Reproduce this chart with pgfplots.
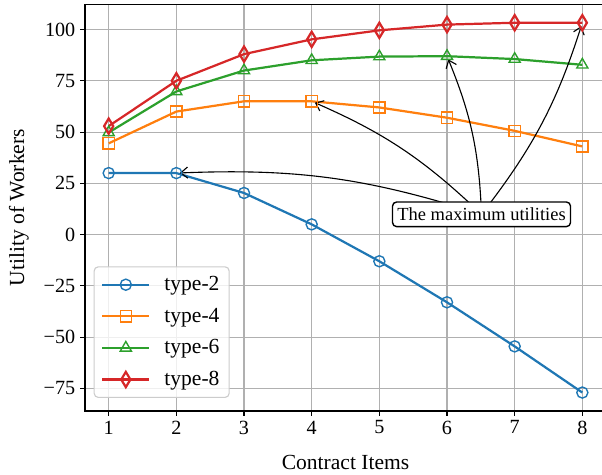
\documentclass[border=0pt]{standalone}
\usepackage{pgfplots}
\pgfplotsset{compat=1.18}
\usepackage{fontspec}
\setmainfont{Liberation Serif}
\usetikzlibrary{arrows.meta}

\definecolor{c0}{HTML}{1F77B4}
\definecolor{c1}{HTML}{FF7F0E}
\definecolor{c2}{HTML}{2CA02C}
\definecolor{c3}{HTML}{D62728}
\definecolor{gridgray}{HTML}{B0B0B0}

\begin{document}
\begin{tikzpicture}
\begin{axis}[
    scale only axis,
    width=375.1pt, height=292.8pt,
    xmin=0.65, xmax=8.35,
    ymin=-86, ymax=112.3,
    xtick={1,2,3,4,5,6,7,8},
    xticklabels={1,2,3,4,5,6,7,8},
    ytick={-75,-50,-25,0,25,50,75,100},
    yticklabels={−75,−50,−25,0,25,50,75,100},
    tick label style={font=\fontsize{14.5}{17}\selectfont},
    tick align=outside, tick pos=left,
    major tick length=3.5pt,
    every tick/.style={black, line width=0.8pt},
    axis line style={line width=0.8pt},
    grid=major,
    major grid style={gridgray, line width=0.8pt},
    xlabel={Contract Items},
    ylabel={Utility of Workers},
    every axis x label/.style={at={(axis description cs:0.5,-0.145)}, anchor=base,
        font=\fontsize{15.5}{18}\selectfont},
    every axis y label/.style={at={(axis description cs:-0.127,0.5)}, rotate=90, anchor=center,
        font=\fontsize{15.5}{18}\selectfont},
    every axis plot/.append style={line width=1.6pt, mark options={solid, line width=1pt, fill=none}},
    legend image code/.code={\draw[mark repeat=2, mark phase=2] plot coordinates {(0pt,0pt) (17pt,0pt) (34pt,0pt)};},
    legend cell align=left,
    legend style={
        at={(axis description cs:0.0165,0.032)}, anchor=south west,
        font=\fontsize{15.5}{18}\selectfont,
        draw=black!20, line width=0.8pt, rounded corners=3pt,
        fill=white, fill opacity=0.8, text opacity=1,
        row sep=7pt, inner xsep=5pt, inner ysep=5pt,
        /tikz/every odd column/.append style={column sep=8pt}},
]
\addplot[c0, mark=o, mark size=4pt] coordinates {
    (1,30) (2,30) (3,20.3) (4,5) (5,-13) (6,-33) (7,-54.5) (8,-77)};
\addplot[c1, mark=square, mark size=4pt] coordinates {
    (1,44.5) (2,60) (3,65) (4,65) (5,62) (6,57) (7,50.6) (8,43)};
\addplot[c2, mark=triangle, mark size=4.6pt] coordinates {
    (1,49.8) (2,69.8) (3,80) (4,85) (5,86.8) (6,87) (7,85.6) (8,82.8)};
\addplot[c3, mark=diamond, mark size=5.5pt, mark options={xscale=0.8}] coordinates {
    (1,52.9) (2,75) (3,88) (4,95.2) (5,99.6) (6,102.4) (7,103.3) (8,103.3)};
\legend{type-2,type-4,type-6,type-8}

\coordinate (c) at (axis cs:6.51,9.9);
\draw[-{Straight Barb[length=5pt,width=8pt]}, line width=0.8pt, shorten >=2.5pt]
    (c) to[bend right=10] (axis cs:2,30);
\draw[-{Straight Barb[length=5pt,width=8pt]}, line width=0.8pt, shorten >=2.5pt]
    (c) to[bend right=10] (axis cs:4,65);
\draw[-{Straight Barb[length=5pt,width=8pt]}, line width=0.8pt, shorten >=2.5pt]
    (c) to[bend right=10] (axis cs:6,87);
\draw[-{Straight Barb[length=5pt,width=8pt]}, line width=0.8pt, shorten >=2.5pt]
    (c) to[bend right=10] (axis cs:8,103.3);
\node[draw=black, fill=white, line width=1pt, rounded corners=3pt,
      font=\fontsize{13.3}{16}\selectfont, inner xsep=3.5pt, inner ysep=4.2pt]
    at (c) {The maximum utilities};
\end{axis}
\pgfresetboundingbox
\path (-61.2pt,-45.4pt) rectangle (372.2pt,295.9pt);
\end{tikzpicture}
\end{document}
